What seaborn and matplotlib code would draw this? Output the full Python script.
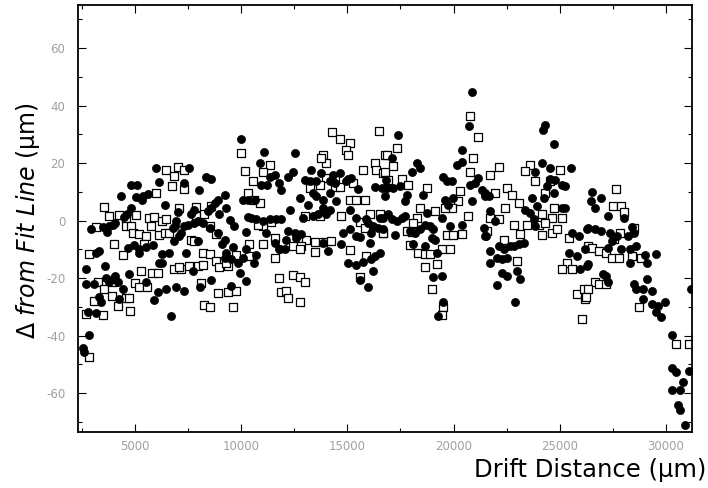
import matplotlib
matplotlib.use("Agg")
import matplotlib.pyplot as plt
import matplotlib.ticker as mticker
import pandas as pd
import seaborn as sns

# filled circles: drift distance (um) and residual (um)
circle_x = [
    5990, 6146, 4813, 5111, 4342, 5048, 5362, 5597, 5331, 6429, 4813, 4609, 4499, 7009, 6931,
    3950, 3793, 3667, 3479, 2930, 4075, 6900, 6774, 7088, 4656, 4970, 5205, 5519, 5833, 6853,
    5205, 3165, 3291, 6272, 6586, 6146, 6272, 2695, 3605, 4734, 4075, 3950, 3793, 4185, 3636,
    2695, 3087, 6931, 6460, 6068, 5519, 4421, 4264, 3322, 3401, 5911, 2773, 3165, 6696, 2852,
    2538, 2616,
    9974, 11072, 10868, 7573, 11574, 11339, 8358, 8593, 7306, 11229, 10946, 8044, 11809, 8907,
    9221, 10084, 10319, 10633, 8750, 8593, 7777, 8436, 9299, 8985, 10319, 10476, 10711, 11025,
    11339, 11653, 7652, 7965, 8201, 7808, 9456, 7495, 7306, 7181, 8515, 8907, 9691, 10241,
    11182, 7965, 9221, 10241, 11574, 11809, 9095, 9613, 9299, 9221, 9534, 9848, 10084, 10711,
    7416, 7730, 9927, 10241, 10601, 8593, 7338, 8091, 9534,
    12530, 12452, 13315, 13785, 14334, 14648, 15040, 15197, 13001, 13236, 13550, 12216, 11902,
    14178, 14413, 14962, 15511, 16296, 16610, 16845, 13393, 12765, 13158, 13550, 13864, 14472,
    14178, 13864, 14178, 13628, 14021, 13393, 12922, 15119, 12295, 11902, 15433, 15903, 15982,
    16217, 16531, 16453, 12216, 12530, 12844, 12609, 12138, 11824, 12059, 13864, 14100, 14727,
    14805, 15119, 15433, 15590, 16139, 16688, 16060, 15040, 15433, 15746, 16139, 16296, 16531,
    16217, 15982, 15590,
    20860, 20735, 17377, 20390, 17095, 20390, 20154, 18271, 18428, 18036, 19527, 19684, 19919,
    21174, 21017, 20782, 21331, 16859, 17173, 17487, 16781, 17801, 17722, 18585, 19997, 19605,
    19762, 20860, 21488, 16938, 16702, 17095, 17330, 17566, 17722, 18742, 19448, 18664, 18899,
    19056, 18428, 18193, 17958, 17252, 19840, 20390, 21488, 18978, 19134, 18114, 18664, 19213,
    19056, 19448, 19527, 19291,
    24327, 24217, 24750, 24170, 24531, 25535, 23856, 24562, 24797, 25111, 25268, 24405, 24719,
    24248, 23699, 21502, 21659, 23934, 23385, 23621, 23777, 23856, 25111, 25268, 21738, 21973,
    21550, 25582, 25896, 26288, 21424, 23071, 23307, 22836, 22679, 22130, 22365, 21738, 22052,
    22287, 22522, 25425, 25817, 25974, 26209, 26288, 21738, 22287, 22522, 22993, 23150, 22052,
    22914,
    26535, 26949, 26472, 26638, 27259, 28046, 26328, 26638, 26949, 27363, 27673, 28191, 28398,
    28501, 27466, 27259, 27880, 28294, 28605, 28294, 29122, 29536, 29019, 26328, 27052, 27259,
    29122, 28501, 28605, 29329, 28915, 29329, 29640, 29950, 29536, 29743, 30261, 31192, 30261,
    30468, 31088, 30261, 30675, 30778, 30571, 30675, 30882, 28915, 27156,
]
circle_y = [
    18.2, 13.5, 12.5, 12.2, 8.4, 8.2, 8.4, 9.2, 7.3, 5.3, 4.5, 2.4, 1.2, 2.9, -0.2,
    -1.4, -2.0, -4.0, -2.2, -3.1, -1.0, -2.0, -2.5, -5.4, -9.4, -8.6, -9.8, -9.1, -8.6, -7.1,
    -11.2, -11.2, -10.6, -11.7, -11.2, -14.6, -14.6, -16.9, -15.8, -18.6, -19.4, -20.4, -21.3, -21.5, -20.1,
    -22.1, -22.1, -23.0, -23.8, -25.0, -21.5, -23.8, -27.3, -26.7, -28.4, -27.5, -31.9, -32.2, -33.3, -39.9,
    -44.5, -45.7,
    28.5, 23.7, 20.1, 18.1, 15.9, 15.3, 15.1, 14.4, 13.2, 12.4, 12.4, 10.7, 13.0, 7.2,
    9.0, 7.2, 7.2, 7.2, 6.1, 4.4, 3.8, 3.2, 4.4, 2.1, 1.2, 0.9, 0.6, -0.2,
    0.4, 0.6, 2.4, -0.2, -0.8, -0.8, 0.1, -1.4, -2.0, -4.5, -2.5, -4.3, -2.0, -4.0,
    -4.3, -7.1, -6.6, -10.0, -7.7, -10.0, -8.3, -9.1, -11.2, -12.9, -13.5, -14.6, -12.9, -12.1,
    -11.2, -17.5, -18.1, -20.9, -14.8, -20.6, -24.4, -23.0, -22.9,
    23.6, 17.0, 17.6, 16.5, 15.9, 16.5, 14.4, 14.7, 14.2, 13.9, 13.6, 15.3, 10.7,
    13.6, 13.0, 13.9, 10.9, 11.6, 11.2, 14.2, 9.6, 7.8, 5.5, 8.4, 7.2, 6.7,
    9.6, 4.4, 3.6, 2.1, 2.4, 1.7, 0.9, 3.6, 3.8, 0.4, 0.9, 0.4, -0.8,
    -2.0, 0.9, -2.5, -3.7, -4.3, -4.8, -6.0, -6.6, -10.0, -9.8, -7.7, -10.6, -8.3,
    -4.3, -2.9, -5.4, -5.6, -4.3, -3.1, -7.7, -14.6, -15.5, -14.4, -13.5, -12.3, -11.2,
    -17.5, -23.2, -20.6,
    44.6, 32.8, 29.7, 24.5, 21.6, 20.5, 19.3, 19.9, 18.2, 17.0, 15.1, 13.9, 13.6,
    14.7, 13.0, 12.4, 10.7, 11.3, 11.3, 11.9, 8.4, 9.0, 6.7, 9.0, 7.8, 7.2,
    5.5, 6.7, 8.4, 2.1, 0.9, 0.4, -0.2, 0.9, 1.5, 2.7, 0.9, -1.4, -2.0,
    -3.1, -3.1, -4.3, -3.7, -5.2, -2.0, -1.7, -5.4, -6.0, -6.6, -8.3, -8.9, -11.2,
    -19.8, -19.2, -28.4, -33.2,
    33.1, 31.4, 26.6, 20.1, 18.2, 18.2, 17.0, 14.4, 14.2, 12.4, 11.9, 11.9, 9.6,
    7.8, 7.8, 9.6, 8.6, 5.0, 3.8, 2.7, 0.4, -2.0, 4.4, 4.4, 3.2, -0.2,
    -5.4, -4.3, -5.4, -3.1, -2.5, -8.3, -7.9, -8.9, -8.9, -8.9, -10.0, -10.6, -12.9,
    -13.5, -12.9, -11.2, -12.3, -16.9, -10.0, -15.8, -14.8, -18.1, -19.2, -17.5, -20.4, -22.4,
    -28.4,
    9.8, 7.8, 6.7, 4.4, 1.5, 0.9, -2.5, -3.1, -3.7, -4.3, -5.4, -5.4, -2.2,
    -4.3, -7.1, -9.4, -9.8, -10.0, -8.9, -14.6, -14.6, -11.7, -12.1, -15.2, -18.6, -21.5,
    -20.4, -22.1, -23.8, -24.4, -27.3, -29.0, -29.6, -28.4, -31.9, -33.6, -39.9, -23.8, -51.4,
    -52.6, -52.3, -58.9, -58.9, -56.0, -64.1, -65.8, -71.0, -23.8, -19.2,
]

# open squares: second data set
square_x = [
    6460, 6853, 7009, 6743, 5990, 3558, 3793, 4264, 5048, 4578, 5644, 5911, 6272, 6460, 3165,
    4578, 4813, 4891, 5205, 5519, 5754, 6146, 6429, 6617, 4028, 5440, 2852, 4421, 5284, 5801,
    6068, 6853, 7166, 3244, 3950, 5017, 5205, 5566, 3558, 3919, 4578, 4703, 3087, 3479, 4185,
    4781, 2695, 2852,
    10005, 10162, 11339, 11025, 7306, 7338, 10554, 10319, 10601, 10868, 11417, 11025, 10790,
    8593, 7887, 7102, 7887, 8279, 8515, 7652, 7808, 8829, 8201, 8515, 8829, 8985, 9378, 9770,
    7102, 7573, 7965, 8201, 9299, 10397, 11025, 11574, 11574, 11809, 11888, 8122, 8907, 9378,
    9770, 8279, 8515, 9613, 10397,
    14303, 14648, 15150, 14931, 15040, 13864, 14021, 13785, 16500, 16766, 15746, 16296, 16374,
    16688, 14413, 14021, 13236, 13707, 14413, 14648, 15276, 15119, 15433, 15825, 14727, 13707,
    13001, 16060, 16531, 15590, 15825, 16688, 13471, 13864, 14256, 13079, 12452, 12844, 13471,
    12765, 15119, 15903, 15590, 12452, 12765, 13001, 12138, 12216, 12765,
    20782, 21174, 17330, 17173, 16859, 16781, 16938, 17566, 17879, 18742, 20939, 20782, 20311,
    20233, 19919, 19605, 19134, 18428, 18271, 18114, 17801, 18036, 16702, 19684, 19997, 20390,
    20703, 17958, 18350, 18664, 18899, 19448, 19840, 18664, 19213, 18978, 19527, 19448,
    22130, 21706, 23621, 23385, 25001, 23856, 22522, 22758, 23071, 21973, 22444, 24327, 24562,
    24719, 24170, 24640, 25111, 23464, 22836, 23150, 22365, 22130, 21738, 24013, 24327, 24640,
    24876, 25425, 25347, 25111, 25582, 22993, 25817, 26131, 26209, 26052, 24170, 21581,
    27632, 27507, 27880, 28046, 28501, 27839, 27570, 26328, 26535, 26845, 27156, 27466, 27777,
    28398, 28812, 26638, 26845, 27156, 26328, 26224, 28708, 30468, 31088,
]
square_y = [
    17.6, 15.5, 18.5, 12.1, 9.6, 4.7, 1.7, 2.0, 2.0, 0.4, 0.9, 1.4, -0.2, 0.4, -2.2,
    -2.0, -2.0, -4.3, -4.6, -5.4, -2.0, -5.1, -4.4, -4.4, -8.3, -8.3, -11.7, -12.0, -17.5, -18.4,
    -18.4, -16.9, -16.7, -21.5, -21.5, -21.7, -23.2, -23.2, -23.8, -26.3, -27.0, -27.0, -28.1, -33.0, -29.8,
    -31.6, -32.5, -47.4,
    23.4, 17.4, 19.3, 17.0, 17.6, 10.9, 13.6, 9.6, 7.2, 6.1, -0.6, -2.0, -1.4,
    5.0, 4.7, 4.4, 1.5, 2.1, -2.0, -6.6, -7.1, -4.8, -11.2, -11.7, -14.0, -16.3, -15.8, -12.1,
    -16.3, -15.8, -15.8, -15.5, -14.6, -8.3, -8.3, -6.0, -12.9, -20.1, -24.7, -21.7, -25.2, -24.7,
    -24.4, -29.3, -30.1, -30.1, -12.3,
    30.8, 28.5, 27.0, 24.7, 22.8, 22.8, 19.9, 21.6, 31.2, 22.8, 17.6, 19.9, 17.6,
    16.5, 14.4, 14.7, 11.3, 12.4, 11.6, 11.6, 13.0, 7.2, 7.2, 7.2, 1.7, 1.5,
    1.5, 2.1, 2.4, -0.6, -2.5, -4.5, -7.5, -7.5, -7.1, -6.6, -8.9, -8.9, -10.9,
    -9.8, -10.3, -12.3, -19.8, -19.0, -19.8, -21.5, -24.4, -27.0, -28.2,
    36.2, 29.1, 25.4, 19.0, 22.8, 17.0, 14.2, 14.4, 12.4, 11.3, 21.6, 17.0, 10.1,
    6.7, 4.4, 4.4, 3.2, 4.4, 0.9, -0.8, -3.7, -4.0, -4.3, -5.2, -5.2, -4.8,
    1.7, -8.6, -11.4, -11.7, -11.7, -10.0, -9.8, -16.3, -15.2, -23.8, -30.1, -33.0,
    18.5, 15.9, 19.3, 17.4, 17.6, 13.6, 11.3, 9.0, 6.1, 9.6, 4.4, 9.6, 13.6,
    4.4, 2.4, 0.9, 0.9, -1.4, -1.4, -4.8, -6.6, 0.4, 0.9, -1.4, -0.8, -4.3,
    -3.1, -6.0, -14.6, -16.9, -16.9, -14.0, -25.5, -23.8, -27.3, -34.2, -5.2, -3.7,
    11.0, 5.2, 5.2, 2.9, -2.5, -4.3, -6.3, -8.9, -9.4, -10.6, -11.2, -12.9, -12.9,
    -12.3, -12.9, -21.5, -22.1, -22.1, -23.8, -26.7, -30.1, -43.1, -43.1,
]

x_ticks = [5000, 10000, 15000, 20000, 25000, 30000]
y_ticks = [-60, -40, -20, 0, 20, 40, 60]

circles = pd.DataFrame({"x": circle_x, "y": circle_y})
squares = pd.DataFrame({"x": square_x, "y": square_y})

sns.set_style("ticks")
plt.rcParams["font.family"] = ["DejaVu Sans"]
plt.rcParams["mathtext.fontset"] = "dejavusans"
plt.rcParams["axes.unicode_minus"] = False

fig = plt.figure(figsize=(7.08, 4.88), dpi=100)
ax = fig.add_axes([0.110, 0.115, 0.867, 0.875])

sns.scatterplot(data=squares, x="x", y="y", ax=ax, marker="s", s=26,
                facecolor="white", edgecolor="black", linewidth=0.9)
sns.scatterplot(data=circles, x="x", y="y", ax=ax, marker="o", s=34,
                color="black", edgecolor="black", linewidth=0.5)

ax.set_xlim(2320, 31210)
ax.set_ylim(-73.5, 75)
ax.set_xticks(x_ticks)
ax.set_yticks(y_ticks)
ax.xaxis.set_minor_locator(mticker.MultipleLocator(2500))
ax.yaxis.set_minor_locator(mticker.MultipleLocator(10))
ax.tick_params(which="both", direction="in", top=True, right=True,
               labelsize=8.5, labelcolor="#a0a0a0", color="black")
ax.tick_params(which="major", length=6, width=0.8)
ax.tick_params(which="minor", length=3, width=0.8)
ax.tick_params(axis="y", pad=9)
ax.tick_params(axis="x", pad=6)
for sp in ax.spines.values():
    sp.set_linewidth(1.3)
    sp.set_color("black")

ax.set_xlabel("")
ax.set_ylabel("")
fig.text(0.998, 0.036, "Drift Distance (µm)", fontsize=17.5, color="black",
         ha="right", va="center")
fig.text(0.040, 0.549, "$\\Delta$ $\\mathit{from\\ Fit\\ Line}$ (µm)",
         fontsize=17, color="black", rotation=90, ha="center", va="center")

fig.savefig("out.png", dpi=100)
